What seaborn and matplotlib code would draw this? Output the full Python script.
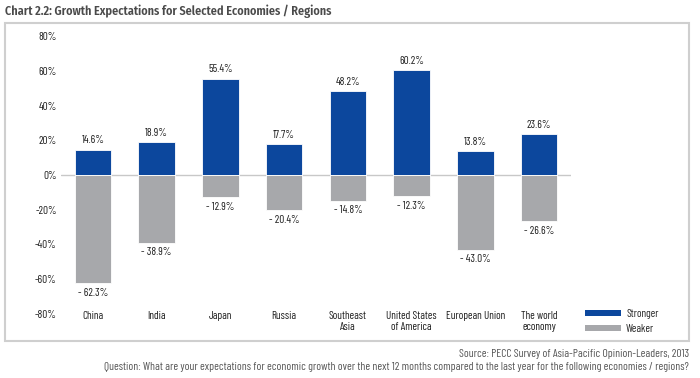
import matplotlib
matplotlib.use("Agg")
import matplotlib.pyplot as plt
import seaborn as sns
import pandas as pd
from matplotlib.patches import Rectangle, Patch

economies = ["China", "India", "Japan", "Russia", "Southeast\nAsia",
             "United States\nof America", "European Union", "The world\neconomy"]
stronger = [14.6, 18.9, 55.4, 17.7, 48.2, 60.2, 13.8, 23.6]
weaker = [-62.3, -38.9, -12.9, -20.4, -14.8, -12.3, -43.0, -26.6]
series_names = ["Stronger", "Weaker"]
y_ticks = [-80, -60, -40, -20, 0, 20, 40, 60, 80]

BLUE = "#0C479D"
GRAY = "#A7A8AB"
TXT = "#1E1E1E"
FS = 8

sns.set_theme(style="white")
plt.rcParams["font.family"] = ["Barlow Condensed", "DejaVu Sans"]

df = pd.DataFrame({
    "economy": economies * 2,
    "value": stronger + weaker,
    "series": [series_names[0]] * len(economies) + [series_names[1]] * len(economies),
})

fig = plt.figure(figsize=(7.0, 3.78), dpi=100)
ax = fig.add_axes([61 / 700, 1 - 314 / 378, 510 / 700, 278 / 378])

sns.barplot(data=df, x="economy", y="value", hue="series", dodge=False,
            palette={"Stronger": BLUE, "Weaker": GRAY}, width=0.57, saturation=1,
            edgecolor="white", linewidth=0.6, ax=ax, legend=False)

ax.set_xlim(-0.5, len(economies) - 0.5)
ax.set_ylim(-80, 80)
ax.axhline(0, color="#C8C8C8", lw=1.0, zorder=0.5)
for s in ax.spines.values():
    s.set_visible(False)
ax.set_xticks([])
ax.set_xlabel("")
ax.set_ylabel("")
ax.set_yticks(y_ticks)
ax.set_yticklabels([f"{t}%" for t in y_ticks], fontsize=FS, color=TXT)
ax.tick_params(axis="y", length=0, pad=3)

for i, (s, w) in enumerate(zip(stronger, weaker)):
    ax.text(i, s + 2.5, f"{s:.1f}%", ha="center", va="bottom", fontsize=FS, color=TXT)
    ax.text(i, w - 2.5, f"- {abs(w):.1f}%", ha="center", va="top", fontsize=FS, color=TXT)
    ax.text(i, -78.0, economies[i], ha="center", va="top", fontsize=FS,
            color=TXT, linespacing=1.2)

handles = [Patch(facecolor=BLUE, edgecolor="none", label="Stronger"),
           Patch(facecolor=GRAY, edgecolor="none", label="Weaker")]
fig.legend(handles=handles, loc="upper left", bbox_to_anchor=(585 / 700, 1 - 309 / 378),
           frameon=False, fontsize=FS, handlelength=3.2, handleheight=0.42,
           labelspacing=0.42, handletextpad=0.5, borderpad=0, borderaxespad=0)

fig.patches.append(Rectangle((5 / 700, 1 - 341 / 378), 684 / 700, 318 / 378,
                             transform=fig.transFigure, fill=False,
                             edgecolor="#CFCFCF", lw=1.5))

fig.text(5 / 700, 1 - 11 / 378, "Chart 2.2: Growth Expectations for Selected Economies / Regions",
         ha="left", va="center", fontsize=8.8, fontweight="semibold", color="#4A4A4A",
         family=["Fira Sans Condensed", "DejaVu Sans"])
fig.text(689 / 700, 1 - 354 / 378, "Source: PECC Survey of Asia-Pacific Opinion-Leaders, 2013",
         ha="right", va="center", fontsize=8.3, color="#555555")
fig.text(689 / 700, 1 - 367 / 378,
         "Question: What are your expectations for economic growth over the next 12 months compared to the last year for the following economies / regions?",
         ha="right", va="center", fontsize=8.3, color="#555555")

fig.savefig("out.png", dpi=100)
